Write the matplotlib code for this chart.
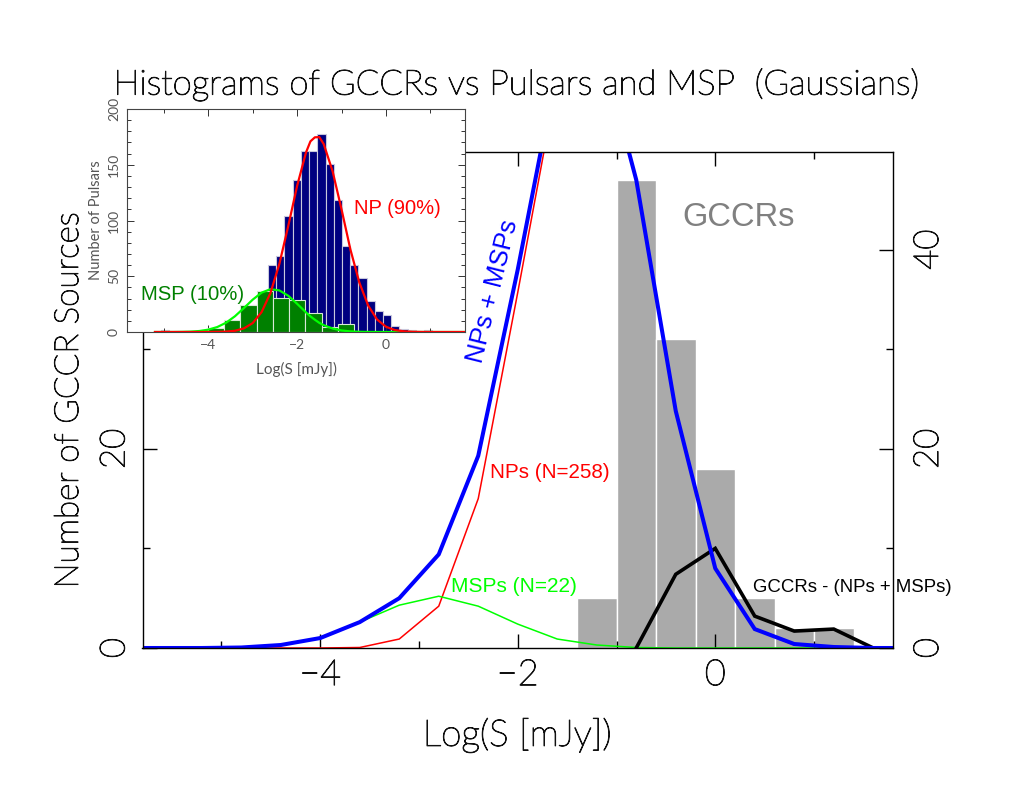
import numpy as np
import matplotlib
matplotlib.use('Agg')
import matplotlib.pyplot as plt
import matplotlib.patheffects as pe
from matplotlib.ticker import FixedLocator

plt.rcParams['font.family'] = ['Liberation Sans', 'DejaVu Sans']

# main panel: GCCR histogram
gccr_edges = [-1.4, -1.0, -0.6, -0.2, 0.2, 0.6, 1.0]
gccr_counts = [5, 47, 31, 18, 5, 2, 2]

# model curves on a 0.4 grid
grid = [-6.0, -5.6, -5.2, -4.8, -4.4, -4.0, -3.6, -3.2, -2.8, -2.4, -2.0, -1.6,
        -1.2, -0.8, -0.4, 0.0, 0.4, 0.8, 1.2, 1.6, 2.0]
np_curve = [0, 0, 0, 0, 0, 0, 0.05, 0.9, 4.2, 15, 35.7, 57,
            61, 47, 24, 8, 1.9, 0.3, 0.1, 0, 0]
msp_curve = [0, 0, 0, 0.05, 0.3, 1, 2.6, 4.3, 5.2, 4.2, 2.4, 0.9,
             0.3, 0.05, 0, 0, 0, 0, 0, 0, 0]
sum_curve = [0, 0, 0, 0.05, 0.3, 1, 2.6, 5, 9.4, 19.3, 38, 58.3,
             62, 47, 23.8, 8, 1.9, 0.4, 0.1, 0, 0]
diff_x = [-0.8, -0.4, 0.0, 0.4, 0.8, 1.2, 1.6, 2.0]
diff_curve = [0, 7.4, 10, 3.2, 1.7, 1.9, 0, 0]

# inset: pulsar histograms
np_hist_edges = [-5.06, -4.875, -4.69, -4.505, -4.32, -4.135, -3.95, -3.765, -3.58, -3.395,
                 -3.21, -3.025, -2.84, -2.655, -2.47, -2.285, -2.10, -1.915, -1.73, -1.545,
                 -1.36, -1.175, -0.99, -0.805, -0.62, -0.435, -0.25, -0.065, 0.12, 0.305,
                 0.49, 0.675, 0.86]
np_hist_counts = [2, 0.5, 0.5, 1, 1, 2, 3, 4, 6, 9,
                  14, 24, 36, 60, 68, 104, 136, 162, 162, 178,
                  151, 118, 77, 60, 48, 28, 19, 15, 5, 3,
                  2, 0.5, 2]
msp_hist_edges = [-4.005, -3.64, -3.275, -2.91, -2.545, -2.18, -1.815, -1.45, -1.085]
msp_hist_counts = [4, 11, 24.5, 36.5, 30.5, 29, 17, 4.5, 7]

curve_x = [-5.2, -5.0, -4.8, -4.6, -4.4, -4.2, -4.0, -3.8, -3.6, -3.4, -3.2, -3.0, -2.8, -2.6,
           -2.4, -2.2, -2.0, -1.8, -1.7, -1.6, -1.5, -1.4, -1.2, -1.0, -0.8, -0.6, -0.4, -0.2,
           0.0, 0.2, 0.4, 0.6, 0.8, 1.0, 1.8]
np_gauss = [0, 0, 0, 0, 0, 0, 0.02, 0.1, 0.36, 1.1, 3.2, 8, 17.8, 35,
            61, 95, 131, 161, 171, 174.6, 174.8, 168.5, 144, 110, 74, 44.5, 23.7, 11.2,
            4.7, 1.75, 0.6, 0.17, 0.05, 0, 0]
msp_gauss = [0, 0, 0, 0.11, 0.33, 0.88, 2.1, 4.4, 8.3, 14.1, 21.4, 29, 35.3, 38.4,
             37.3, 32.5, 25.3, 17.6, 14, 11, 8.2, 6.1, 3.1, 1.36, 0.55, 0.2, 0.06, 0.02,
             0, 0, 0, 0, 0, 0, 0]

W, H = 1035.0, 800.0
fig = plt.figure(figsize=(10.35, 8), dpi=100)

def px_axes(left, top, right, bottom):
    return fig.add_axes([left / W, 1 - bottom / H, (right - left) / W, (bottom - top) / H])

ax = px_axes(142.5, 152, 893, 648)
ax.bar(gccr_edges, gccr_counts, width=0.4, align='edge', color='#aaaaaa', edgecolor='white', linewidth=1.0, zorder=1)
ax.plot(grid, np_curve, color='#ff0000', lw=1.1, zorder=3)
ax.plot(grid, msp_curve, color='#00ff00', lw=1.1, zorder=3)
ax.plot(diff_x, diff_curve, color='black', lw=2.6, zorder=4, solid_joinstyle='miter')
ax.plot(grid, sum_curve, color='#0000ff', lw=2.9, zorder=5, solid_joinstyle='miter')
ax.set_xlim(-5.8, 1.8)
ax.set_ylim(0, 49.8)

# hairline face plus a thin outline gives a stroke-font look
thick = [pe.withStroke(linewidth=0.75, foreground='#111111')]
stroke = dict(family='Lato', weight='light', color='#111111', path_effects=thick)

ax.xaxis.set_major_locator(FixedLocator([-4, -2, 0]))
ax.xaxis.set_minor_locator(FixedLocator([-5, -3, -1, 1]))
ax.yaxis.set_major_locator(FixedLocator([0, 20, 40]))
ax.yaxis.set_minor_locator(FixedLocator([10, 30]))
ax.tick_params(which='major', direction='in', length=10, width=1.0, top=True, right=True, zorder=6)
ax.tick_params(which='minor', direction='in', length=5, width=1.0, top=True, right=True, zorder=6)
ax.set_yticklabels([])
ax.set_xticks([-4, -2, 0], ['\u22124', '\u22122', '0'], fontsize=26, **stroke)
ax.tick_params(axis='x', which='major', pad=8)
for s in ax.spines.values():
    s.set_linewidth(1.0)
    s.set_zorder(6)

for v, t in zip([0, 20], ['0', '20']):
    ax.annotate(t, (0, v), xycoords=('axes fraction', 'data'), xytext=(-28, 0), textcoords='offset pixels',
                rotation=90, ha='center', va='center', fontsize=25, **stroke)
for v, t in zip([0, 20, 40], ['0', '20', '40']):
    ax.annotate(t, (1, v), xycoords=('axes fraction', 'data'), xytext=(35, 0), textcoords='offset pixels',
                rotation=90, ha='center', va='center', fontsize=25, **stroke)

fig.text(517 / W, 1 - 84 / H, 'Histograms of GCCRs vs Pulsars and MSP  (Gaussians)', ha='center', va='center', fontsize=25, **stroke)
fig.text(69 / W, 1 - 400 / H, 'Number of GCCR Sources', rotation=90, ha='center', va='center', fontsize=24, **stroke)
fig.text(517 / W, 1 - 735 / H, 'Log(S [mJy])', ha='center', va='center', fontsize=26.5, **stroke)

ax.text(0.24, 43.2, 'GCCRs', color='#808080', fontsize=23.5, ha='center', va='center')
ax.text(-2.25, 35.8, 'NPs + MSPs', color='#0000ff', fontsize=18.5, rotation=76, ha='center', va='center')
ax.text(-2.28, 17.6, 'NPs (N=258)', color='#ff0000', fontsize=14.9, ha='left', va='center')
ax.text(-2.68, 6.2, 'MSPs (N=22)', color='#00ff00', fontsize=15, ha='left', va='center')
ax.text(0.38, 6.1, 'GCCRs - (NPs + MSPs)', color='black', fontsize=13.4, ha='left', va='center', zorder=7, clip_on=False)

# inset
ins = px_axes(127, 109, 465, 332)
ins.set_zorder(10)
ins.bar(np_hist_edges, np_hist_counts, width=0.185, align='edge', color='#000080', edgecolor='#c8c8dc', linewidth=0.8, zorder=1)
ins.bar(msp_hist_edges, msp_hist_counts, width=0.365, align='edge', color='#008000', edgecolor='#d8e8d8', linewidth=0.8, zorder=2)
ins.plot(curve_x, msp_gauss, color='#00ff00', lw=1.6, zorder=3)
ins.plot(curve_x, np_gauss, color='#ff0000', lw=1.6, zorder=4)
ins.set_xlim(-5.83, 1.78)
ins.set_ylim(0, 200)
ins.xaxis.set_major_locator(FixedLocator([-4, -2, 0]))
ins.xaxis.set_minor_locator(FixedLocator([-5, -3, -1, 1]))
ins.yaxis.set_major_locator(FixedLocator([0, 50, 100, 150, 200]))
ins.yaxis.set_minor_locator(FixedLocator([10, 20, 30, 40, 60, 70, 80, 90, 110, 120, 130, 140, 160, 170, 180, 190]))
ins.tick_params(which='major', direction='in', length=5, width=0.7, top=True, right=True, color='#333333')
ins.tick_params(which='minor', direction='in', length=2.8, width=0.7, top=True, right=True, color='#333333')
small = dict(family='Lato', color='#555555')
ins.set_xticks([-4, -2, 0], ['\u22124', '\u22122', '0'], fontsize=10, **small)
ins.set_yticks([0, 50, 100, 150, 200], ['0', '50', '100', '150', '200'], fontsize=10, rotation=90, va='center', **small)
ins.tick_params(axis='both', which='major', pad=5)
for s in ins.spines.values():
    s.set_linewidth(0.8)
    s.set_color('#444444')
ins.set_xlabel('Log(S [mJy])', fontsize=11, labelpad=8, **small)
ins.set_ylabel('Number of Pulsars', fontsize=10.5, labelpad=4, **small)
ins.text(-4.35, 34, 'MSP (10%)', color='#008000', fontsize=14.6, ha='center', va='center', zorder=5)
ins.text(-0.72, 111, 'NP (90%)', color='#ff0000', fontsize=14.5, ha='left', va='center', zorder=5, clip_on=False)

fig.savefig('out.png', dpi=100)
